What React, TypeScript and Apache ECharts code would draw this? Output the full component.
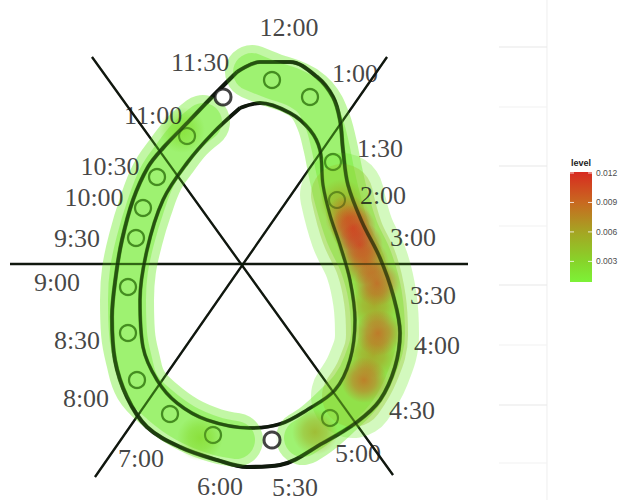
import React, { useEffect, useRef } from "react";
import * as echarts from "echarts";

// ---------- data (chart units = picture pixels) ----------
const outerLoop: number[][] = [
  [237, 72], [260, 62], [290, 62], [317, 77], [333, 97], [340, 120], [343, 150], [348, 185],
  [362, 222], [380, 258], [393, 295], [400, 333], [395, 367], [380, 400], [357, 422], [323, 443],
  [280, 465], [247, 467], [217, 460], [180, 447], [147, 427], [127, 397], [115, 360], [112, 317],
  [116, 275], [122, 240], [133, 200], [148, 167], [163, 148], [190, 120], [213, 96], [237, 72],
];
const innerLoop: number[][] = [
  [240, 108], [260, 103], [290, 113], [310, 130], [320, 150], [323, 185], [330, 215], [340, 245],
  [350, 280], [355, 320], [350, 360], [335, 390], [307, 410], [280, 424], [250, 428], [207, 420],
  [177, 403], [157, 380], [143, 347], [140, 300], [147, 250], [163, 200], [187, 163], [213, 133],
  [240, 108],
];
const spokes: number[][][] = [
  [[10, 264], [468, 264]],
  [[92, 57], [393, 475]],
  [[387, 57], [95, 477]],
];
const greenCircles: number[][] = [
  [187, 136], [157, 177], [143, 208], [136, 238], [128, 287], [128, 333], [137, 380],
  [170, 414], [213, 435], [272, 80], [310, 97], [333, 162], [337, 200], [330, 418],
];
const blackCircles: number[][] = [[223, 97], [272, 440]];
const hourNames: string[] = [
  "12:00", "11:30", "1:00", "11:00", "1:30", "10:30", "10:00", "2:00", "9:30", "3:00",
  "9:00", "3:30", "8:30", "4:00", "8:00", "4:30", "7:00", "5:00", "6:00", "5:30",
];
const hourPos: number[][] = [
  [289, 27], [200, 62], [355, 73], [153, 115], [380, 148], [110, 166], [94, 197], [383, 195],
  [77, 238], [413, 237], [57, 282], [433, 295], [77, 340], [437, 345], [86, 398], [412, 410],
  [141, 458], [358, 453], [220, 486], [295, 487],
];
const heatBandLeft: number[][] = [
  [203, 122], [187, 136], [172, 155], [157, 177], [145, 208], [136, 238], [129, 270], [127, 300],
  [128, 333], [133, 360], [141, 385], [160, 405], [185, 423], [213, 435], [236, 440],
];
const heatBandRight: number[][] = [
  [252, 72], [272, 80], [295, 88], [312, 100], [323, 120], [330, 145], [335, 170], [342, 200],
  [352, 232], [366, 262], [375, 295], [378, 333], [370, 365], [357, 390], [338, 410], [318, 428],
  [303, 438],
];
const heatBandRightWide: number[][] = [
  [342, 195], [352, 232], [367, 265], [375, 300], [377, 335], [368, 370], [353, 396],
];
// hotspots: x, y, level
const hotspots: number[][] = [
  [342, 202, 0.0055], [348, 218, 0.009], [353, 228, 0.0115], [360, 245, 0.012], [366, 262, 0.01],
  [374, 305, 0.0065], [377, 283, 0.0102], [373, 355, 0.0065], [378, 333, 0.0097], [364, 380, 0.0093],
  [315, 432, 0.0055], [200, 438, 0.0025], [182, 130, 0.0022],
];
const legendTicks: number[] = [0.003, 0.006, 0.009, 0.012];
const levelMin = 0.0009;
const levelMax = 0.0121;
const gridY: number[] = [47, 107, 166, 226, 285, 345, 405, 463];

// ---------- styling helpers ----------
const rampStops: [number, number[]][] = [
  [0.0009, [125, 242, 55]],
  [0.003, [135, 212, 42]],
  [0.006, [165, 165, 35]],
  [0.009, [200, 105, 32]],
  [0.0121, [216, 42, 32]],
];
function levelColor(v: number): number[] {
  if (v <= rampStops[0][0]) return rampStops[0][1];
  for (let i = 1; i < rampStops.length; i++) {
    const [v1, c1] = rampStops[i];
    const [v0, c0] = rampStops[i - 1];
    if (v <= v1) {
      const t = (v - v0) / (v1 - v0);
      return c0.map((c, k) => Math.round(c + (c1[k] - c) * t));
    }
  }
  return rampStops[rampStops.length - 1][1];
}
const rgba = (c: number[], a: number) => `rgba(${c[0]},${c[1]},${c[2]},${a})`;

export default function App() {
  const ref = useRef<HTMLDivElement>(null);
  useEffect(() => {
    if (!ref.current) return;
    const chart = echarts.init(ref.current, undefined, { renderer: "svg" });
    const ink = "#141414";
    const shade = "rgba(12,28,6,0.6)";
    const band = (data: number[][], width: number, color: string) => ({
      type: "line",
      data,
      smooth: 0.4,
      symbol: "none",
      silent: true,
      lineStyle: { width, color, cap: "round", join: "round" },
      z: 3,
    });
    const loop = (data: number[][], width: number, color: string, z: number) => ({
      type: "line", data, smooth: 0.35, symbol: "none", silent: true,
      lineStyle: { width, color, join: "round" }, z,
    });
    const bandGreen = "rgba(110,235,40,0.42)";

    // legend geometry
    const barX = 570, barY = 172, barW = 22, barH = 110;
    const tickY = (v: number) => barY + barH - ((v - levelMin) / (levelMax - levelMin)) * barH;

    const graphic: any[] = [
      { type: "line", shape: { x1: 547, y1: 0, x2: 547, y2: 500 }, style: { stroke: "#f1f1f1", lineWidth: 1.2 }, z: 0 },
      ...gridY.map((y, i) => ({
        type: "line",
        shape: { x1: 499, y1: y, x2: 547, y2: y },
        style: { stroke: i % 2 === 0 ? "#e7e7e7" : "#f1f1f1", lineWidth: 1.2 },
        z: 0,
      })),
      {
        type: "text", x: barX + barW / 2, y: barY - 9,
        style: { text: "level", fill: "#222", font: "bold 9px 'Liberation Sans', sans-serif", align: "center", verticalAlign: "middle" },
        z: 10,
      },
      {
        type: "rect", shape: { x: barX, y: barY, width: barW, height: barH },
        style: {
          fill: new echarts.graphic.LinearGradient(0, 0, 0, 1, rampStops
            .slice()
            .reverse()
            .map(([v, c]) => ({ offset: (levelMax - v) / (levelMax - levelMin), color: rgba(c, 1) }))),
        },
        z: 10,
      },
      ...legendTicks.flatMap((v) => [
        { type: "line", shape: { x1: barX, y1: tickY(v), x2: barX + 4, y2: tickY(v) }, style: { stroke: "rgba(255,255,255,0.8)", lineWidth: 1 }, z: 11 },
        { type: "line", shape: { x1: barX + barW - 4, y1: tickY(v), x2: barX + barW, y2: tickY(v) }, style: { stroke: "rgba(255,255,255,0.8)", lineWidth: 1 }, z: 11 },
        {
          type: "text", x: barX + barW + 4, y: tickY(v),
          style: { text: v.toFixed(3), fill: "#4d4d4d", font: "8.5px 'Liberation Sans', sans-serif", align: "left", verticalAlign: "middle" },
          z: 11,
        },
      ]),
    ];

    const option: any = {
      animation: false,
      backgroundColor: "#ffffff",
      grid: { left: 0, right: 0, top: 0, bottom: 0, containLabel: false },
      xAxis: { type: "value", min: 0, max: 630, show: false },
      yAxis: { type: "value", min: 0, max: 500, inverse: true, show: false },
      graphic,
      series: [
        ...spokes.map((s) => ({
          type: "line", data: s, symbol: "none", silent: true,
          lineStyle: { width: 2.3, color: ink }, z: 2,
        })),
        loop(outerLoop, 4.2, ink, 2),
        loop(innerLoop, 3.8, ink, 2),
        {
          type: "scatter", data: greenCircles, symbol: "circle", symbolSize: 16, silent: true,
          itemStyle: { color: "rgba(0,0,0,0)", borderColor: "#1d3d12", borderWidth: 2.4 }, z: 2,
        },
        // heat bands
        band(heatBandLeft, 54, bandGreen),
        band(heatBandLeft, 38, bandGreen),
        band(heatBandRight, 54, bandGreen),
        band(heatBandRight, 38, bandGreen),
        band(heatBandRightWide, 84, "rgba(110,235,40,0.3)"),
        band(heatBandRightWide, 62, "rgba(150,200,45,0.38)"),
        {
          type: "scatter", silent: true, z: 3,
          symbolSize: 46,
          data: hotspots.map(([x, y, lv]) => {
            const c = levelColor(lv);
            return {
              value: [x, y, lv],
              itemStyle: {
                color: new echarts.graphic.RadialGradient(0.5, 0.5, 0.5, [
                  { offset: 0, color: rgba(c, 0.95) },
                  { offset: 0.5, color: rgba(c, 0.62) },
                  { offset: 1, color: rgba(c, 0) },
                ]),
              },
            };
          }),
        },
        // darken the drawing seen through the heat
        loop(outerLoop, 3.4, shade, 4),
        loop(innerLoop, 3.0, shade, 4),
        ...spokes.map((s) => ({
          type: "line", data: s, symbol: "none", silent: true,
          lineStyle: { width: 2, color: "rgba(12,28,6,0.45)" }, z: 4,
        })),
        {
          type: "scatter", data: greenCircles, symbol: "circle", symbolSize: 16, silent: true,
          itemStyle: { color: "rgba(0,0,0,0)", borderColor: "rgba(20,50,10,0.45)", borderWidth: 2 }, z: 4,
        },
        {
          type: "scatter", data: blackCircles, symbol: "circle", symbolSize: 16, silent: true,
          itemStyle: { color: "#ffffff", borderColor: ink, borderWidth: 3 }, z: 5,
        },
        {
          type: "scatter", silent: true, z: 6,
          symbolSize: 1,
          itemStyle: { color: "rgba(0,0,0,0)" },
          data: hourNames.map((n, i) => ({ name: n, value: hourPos[i] })),
          label: {
            show: true, position: "inside", formatter: "{b}",
            color: "#141414", fontSize: 26, fontFamily: "'Liberation Serif', 'DejaVu Serif', serif",
          },
        },
      ],
    };
    chart.setOption(option);
    return () => chart.dispose();
  }, []);
  return (
    <div
      ref={ref}
      style={{ position: "fixed", left: 0, top: 0, width: 630, height: 500, background: "#fff" }}
    />
  );
}
